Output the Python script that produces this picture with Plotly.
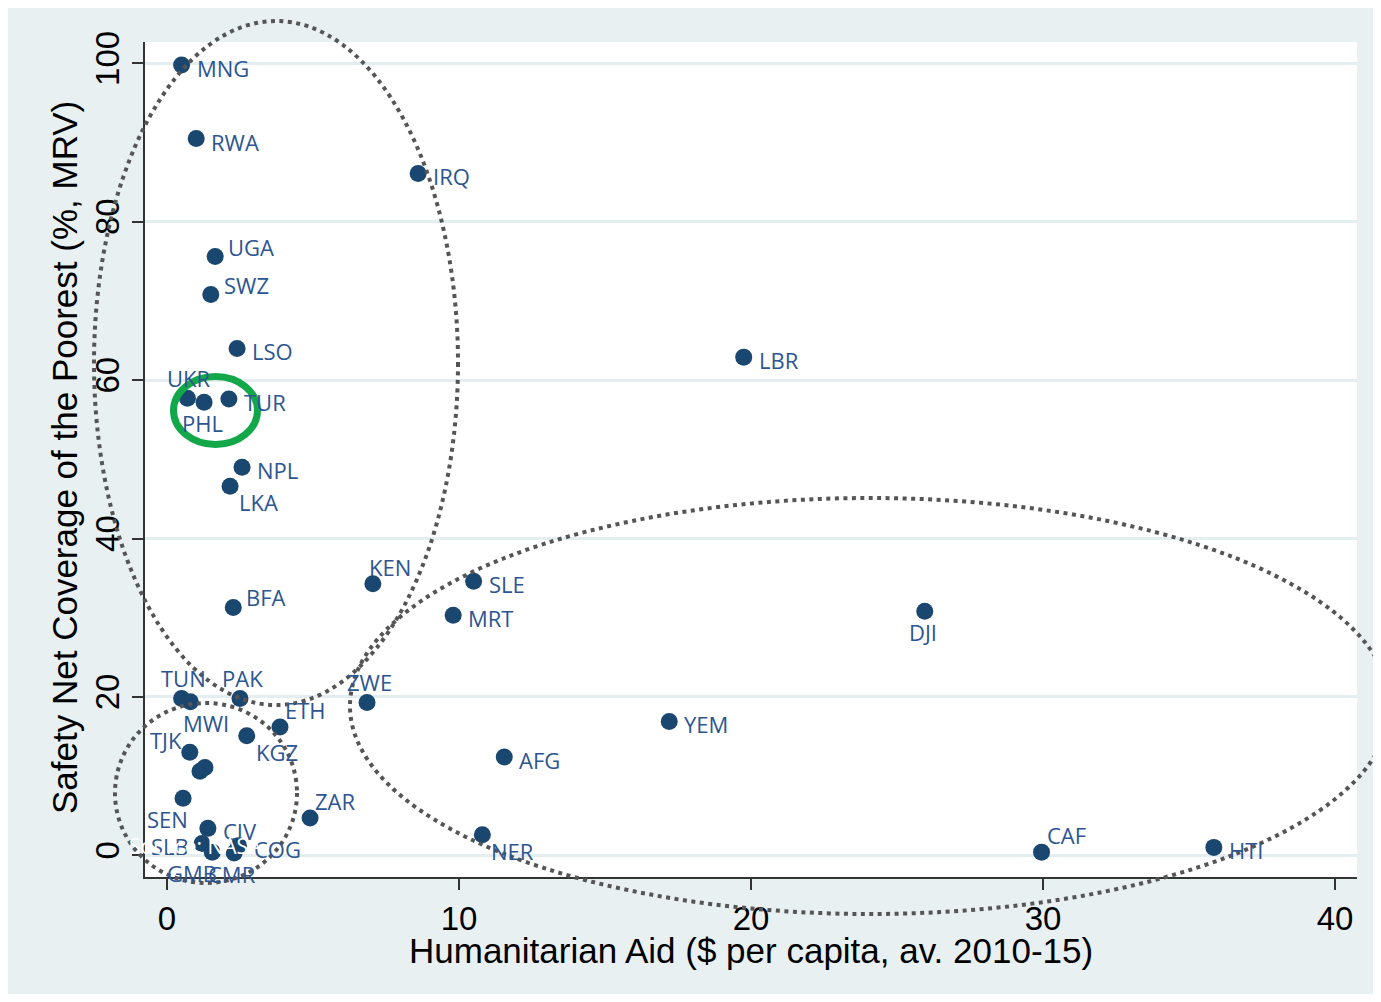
import plotly.graph_objects as go

# ---------------- data ----------------
codes = ["MNG", "RWA", "IRQ", "UGA", "SWZ", "LSO", "LBR", "UKR", "PHL", "TUR",
         "NPL", "LKA", "BFA", "KEN", "SLE", "MRT", "DJI", "TUN", "MWI", "PAK",
         "ETH", "KGZ", "ZWE", "TJK", "", "", "SEN", "CIV", "SLB", "GMB",
         "CMR", "COG", "ZAR", "YEM", "AFG", "NER", "CAF", "HTI"]
aid = [0.5, 1.0, 8.6, 1.65, 1.5, 2.4, 19.75, 0.7, 1.27, 2.12,
       2.57, 2.16, 2.27, 7.05, 10.5, 9.8, 25.95, 0.5, 0.8, 2.5,
       3.87, 2.73, 6.85, 0.78, 1.13, 1.3, 0.55, 1.4, 1.2, 1.55,
       2.3, 2.45, 4.9, 17.2, 11.55, 10.8, 29.95, 35.85]
coverage = [99.8, 90.5, 86.1, 75.6, 70.8, 64.0, 62.9, 57.7, 57.2, 57.6,
            49.0, 46.6, 31.3, 34.3, 34.6, 30.3, 30.8, 19.8, 19.4, 19.8,
            16.2, 15.1, 19.3, 13.0, 10.6, 11.1, 7.2, 3.4, 1.5, 0.4,
            0.3, 1.2, 4.7, 16.9, 12.4, 2.6, 0.4, 1.0]
# marker-label clock positions (Stata style)
label_clock = [3, 3, 3, 2, 2, 3, 3, 12, 6, 3,
               3, 5, 2, 12.5, 3, 3, 6, 12, 5.5, 12,
               1, 5, 12, 11, 3, 3, 7, 3, 9, 7,
               6, 3, 1, 3, 3, 5, 1, 3]
x_ticks = [0, 10, 20, 30, 40]
y_ticks = [0, 20, 40, 60, 80, 100]
x_title = "Humanitarian Aid ($ per capita, av. 2010-15)"
y_title = "Safety Net Coverage of the Poorest (%, MRV)"

# ---------------- layout geometry ----------------
OFF = 8                      # page offset of the figure inside the window
W, H = 1381 - 2 * OFF, 1002 - 2 * OFF
L, R, T = 145 - OFF, 16, 42 - OFF
B = H - (877 - OFF)
PW, PH = W - L - R, H - T - B


def px(sx):
    return (sx - OFF - L) / PW


def py(sy):
    return (H - B - (sy - OFF)) / PH


# clock -> (xanchor, dx, dy downward) in pixels
clock_style = {
    3: ("left", 13, 3),
    2: ("left", 11, -10),
    1: ("left", 3, -17),
    12.5: ("center", 17, -17),
    12: ("center", 2, -20),
    11: ("right", -6, -12),
    9: ("right", -11, 3),
    7: ("right", 7, 21),
    6: ("center", -2, 21),
    5.5: ("center", 16, 21),
    5: ("left", 7, 16),
}

fig = go.Figure()
fig.add_trace(go.Scatter(
    x=aid, y=coverage, mode="markers", text=codes,
    marker=dict(size=17, color="#1a476f"),
    hoverinfo="text", showlegend=False,
))

annotations = []
for cx, cy, code, clk in zip(aid, coverage, codes, label_clock):
    if not code:
        continue
    xa, dx, dy = clock_style[clk]
    annotations.append(dict(
        x=cx, y=cy, xref="x", yref="y", text=code, showarrow=False,
        xanchor=xa, yanchor="middle", xshift=dx, yshift=-dy,
        font=dict(family="Open Sans", size=22, color="#2c5592"),
    ))

annotations += [
    dict(text="Source: NASA", xref="paper", yref="paper", x=px(195), y=py(846),
         showarrow=False, font=dict(family="Open Sans", size=21, color="white"),
         xanchor="center", yanchor="middle"),
    dict(text=x_title, xref="paper", yref="paper", x=px(751), y=py(951),
         showarrow=False, font=dict(family="Liberation Sans", size=35, color="black"),
         xanchor="center", yanchor="middle"),
    dict(text=y_title, xref="paper", yref="paper", x=px(65), y=py(458), textangle=-90,
         showarrow=False, font=dict(family="Liberation Sans", size=35, color="black"),
         xanchor="center", yanchor="middle"),
]

dot_line = dict(color="#555555", width=4, dash="4px,4.5px")
shapes = [
    dict(type="circle", xref="paper", yref="paper", x0=px(94), x1=px(458), y0=py(705), y1=py(21),
         line=dot_line, layer="above"),
    dict(type="circle", xref="paper", yref="paper", x0=px(115), x1=px(297), y0=py(883), y1=py(703),
         line=dot_line, layer="above"),
    dict(type="circle", xref="paper", yref="paper", x0=px(350), x1=px(1390), y0=py(914), y1=py(498),
         line=dot_line, layer="above"),
    dict(type="circle", xref="paper", yref="paper", x0=px(173.5), x1=px(257.5), y0=py(444.5), y1=py(376.5),
         line=dict(color="#12a84a", width=7), layer="above"),
]

fig.update_layout(
    width=W, height=H,
    margin=dict(l=L, r=R, t=T, b=B),
    paper_bgcolor="#e9f0f2", plot_bgcolor="white",
    shapes=shapes, annotations=annotations,
    font=dict(family="Liberation Sans", size=33, color="black"),
    xaxis=dict(range=[-0.7534, 40.753], tickvals=x_ticks, showgrid=False, zeroline=False,
               showline=True, linecolor="#333333", linewidth=2,
               ticks="outside", ticklen=11, tickwidth=2, tickcolor="#333333",
               tickfont=dict(size=33)),
    yaxis=dict(range=[-2.74, 102.69], tickvals=y_ticks, showgrid=True,
               gridcolor="#e4eef1", gridwidth=3, zeroline=False,
               showline=True, linecolor="#333333", linewidth=2,
               ticks="outside", ticklen=11, tickwidth=2, tickcolor="#333333",
               tickangle=-90, tickfont=dict(size=33)),
)

fig.write_html("out.html")
